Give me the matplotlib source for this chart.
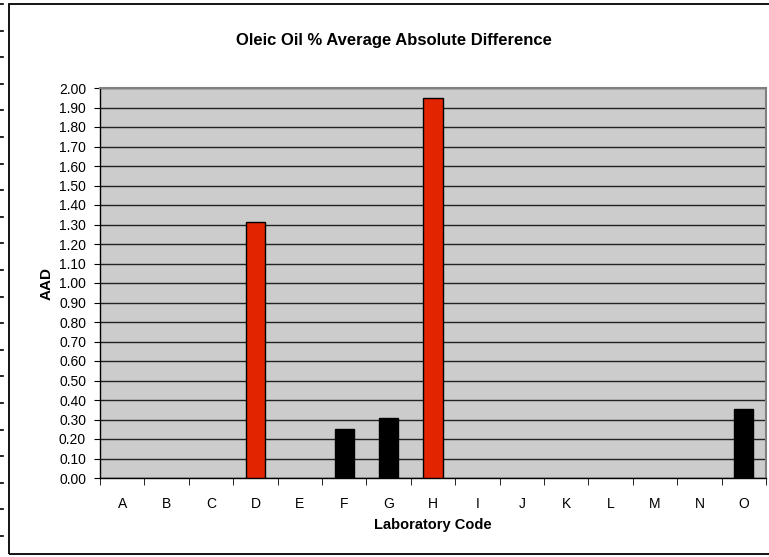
import matplotlib
matplotlib.use("Agg")
import matplotlib.pyplot as plt
from matplotlib.patches import Rectangle
from matplotlib.lines import Line2D
import numpy as np

categories = list("ABCDEFGHIJKLMNO")
values = [0, 0, 0, 1.315, 0, 0.25, 0.31, 1.95, 0, 0, 0, 0, 0, 0, 0.355]
highlight = [False, False, False, True, False, False, False, True, False, False, False, False, False, False, False]
yticks = np.round(np.arange(0, 2.01, 0.1), 2)

plt.rcParams['font.family'] = ['Liberation Sans', 'DejaVu Sans']

W, H = 769, 557
fig = plt.figure(figsize=(W / 100, H / 100), dpi=100)

# outer chart frame
fig.patches.append(Rectangle((9 / W, 1 - 554 / H), (W + 5 - 9) / W, (554 - 4) / H,
                             transform=fig.transFigure, fill=False, edgecolor='black', lw=1.3))
# small dashes at the left edge
for yy in np.arange(4, 540, 26.6):
    fig.lines.append(Line2D([0, 3 / W], [1 - yy / H, 1 - yy / H], transform=fig.transFigure,
                            color='black', lw=1.2))

ax = fig.add_axes([100 / W, 1 - 478 / H, (766 - 100) / W, (478 - 88) / H])
ax.set_facecolor('#CCCCCC')

x = np.arange(len(categories))
colors = ['#E32400' if h else 'black' for h in highlight]
lws = [1 if v > 0 else 0 for v in values]
ax.bar(x, values, width=0.43, color=colors, edgecolor='black', linewidth=lws, zorder=3)

ax.set_xlim(-0.5, len(categories) - 0.5)
ax.set_ylim(0, 2.0)
ax.set_yticks(yticks)
ax.set_yticklabels([f"{v:.2f}" for v in yticks], fontsize=10)
ax.yaxis.grid(True, color='#222222', lw=1)
ax.set_axisbelow(True)

ax.set_xticks(x)
ax.set_xticklabels(categories, fontsize=10)
ax.tick_params(axis='x', which='major', length=0, pad=14)
ax.set_xticks(np.arange(-0.5, len(categories), 1), minor=True)
ax.tick_params(axis='x', which='minor', length=5, direction='out', color='black')
ax.tick_params(axis='y', length=4, direction='out', pad=6)

for s in ['left', 'bottom']:
    ax.spines[s].set_color('black')
    ax.spines[s].set_linewidth(1)
for s in ['top', 'right']:
    ax.spines[s].set_color('#808080')
    ax.spines[s].set_linewidth(1.5)

ax.set_xlabel('Laboratory Code', fontsize=10.5, fontweight='bold', labelpad=5)
ax.set_ylabel('AAD', fontsize=11, fontweight='bold', labelpad=4)
fig.text(394 / W, 1 - 40 / H, 'Oleic Oil % Average Absolute Difference', ha='center', va='center',
         fontsize=12, fontweight='bold')

fig.savefig('out.png', dpi=100)
